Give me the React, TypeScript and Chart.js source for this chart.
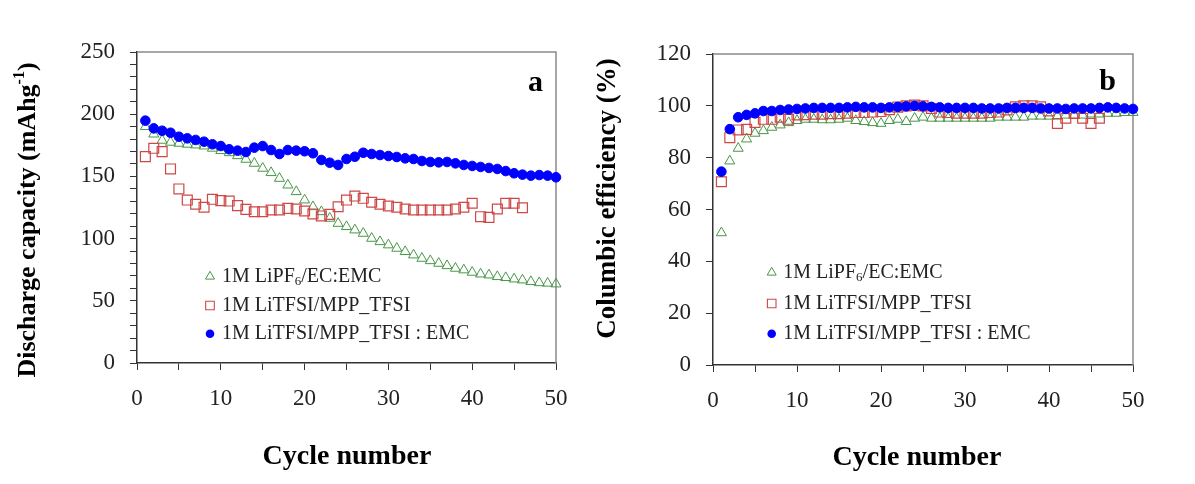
import React, { useEffect, useRef } from 'react';
import { Chart, registerables } from 'chart.js';

Chart.register(...registerables);

const FONT = "'Liberation Serif', 'Times New Roman', serif";

// ---------- data ----------
const cycles = [1, 2, 3, 4, 5, 6, 7, 8, 9, 10, 11, 12, 13, 14, 15, 16, 17, 18, 19, 20, 21, 22, 23, 24, 25,
  26, 27, 28, 29, 30, 31, 32, 33, 34, 35, 36, 37, 38, 39, 40, 41, 42, 43, 44, 45, 46, 47, 48, 49, 50];

const seriesNames = ['1M LiPF6/EC:EMC', '1M LiTFSI/MPP_TFSI', '1M LiTFSI/MPP_TFSI : EMC'];

// (a) discharge capacity, mAh/g
const capLiPF6 = [190, 184, 179, 177.4, 176.6, 175.8, 175.2, 174.4, 172.6, 170.7, 169, 166.6, 163.7, 160.5, 156.5,
  153, 148.4, 143, 137.7, 131, 125.6, 121.6, 116.3, 112.2, 109.6, 106.9, 104.2, 100.2, 97.5, 94.9, 92.2, 89.5,
  86.8, 84.1, 82.2, 80.1, 78.2, 76.1, 74.8, 72.9, 71.5, 70.7, 69.4, 68.6, 67.5, 66.7, 65.4, 64.5, 64.1, 63.5];
const capMPP = [165.9, 172.6, 169.9, 156, 139.9, 131, 127.6, 125.2, 131.6, 130.5, 130.2, 126.5, 123.5, 121.6, 121.6,
  123, 123, 124.3, 123.8, 122.2, 119.8, 118.2, 119.5, 125.6, 131, 134.2, 132.4, 129.2, 127.6, 126.2, 125.2, 123.8,
  123, 123, 123, 123, 123, 123.8, 125.2, 128.4, 117.6, 117.1, 123.8, 128.4, 128.4, 124.8];
const capMPPEMC = [194.8, 188.6, 186.7, 185.1, 181.9, 180.6, 179.3, 177.9, 175.8, 174.4, 171.8, 170.7, 169.6, 173.1,
  174.4, 171.2, 168, 171.2, 170.7, 170.2, 168.6, 163.2, 161, 159.2, 164, 165.8, 169, 168, 167.2, 166.4, 165.6, 164.5,
  164, 162.4, 161.6, 161.3, 161.6, 160.5, 159.2, 158.4, 157.6, 156.8, 156, 154.3, 152.5, 151.4, 150.6, 151.1, 150.6, 149.3];

// (b) columbic efficiency, %
const ceLiPF6 = [51, 78.7, 83.6, 87.2, 89.4, 90.4, 91.7, 92.6, 93.5, 94.3, 94.8, 94.8, 94.6, 94.6, 94.8, 95.2, 94.3,
  93.9, 93.5, 93.2, 94.3, 94.8, 93.9, 95.2, 95.6, 95.2, 95.2, 95.2, 95.2, 95.2, 95.2, 95.2, 95.2, 95.6, 95.6, 95.6,
  95.6, 96, 96, 96, 96, 96.4, 96.4, 96.4, 96.8, 96.8, 97.1, 97.1, 97.4, 97.4];
const ceMPP = [70.7, 87.7, 90.7, 90.9, 93.6, 94.8, 94.8, 95.6, 94.8, 96.5, 96.6, 96.8, 96.8, 97, 97, 97.2, 97.4,
  97.4, 97.6, 97.8, 98.5, 99.5, 100, 100.3, 100, 99, 97.6, 97.4, 97.2, 97.2, 97.2, 97.2, 97.4, 97.6, 98.4, 99.6,
  100, 100, 99.6, 98, 93.2, 95.2, 97.1, 95.2, 93.2, 95.2];
const ceMPPEMC = [74.6, 91, 95.6, 96.5, 97.1, 98, 98, 98.4, 98.6, 98.8, 99, 99.2, 99.2, 99.2, 99.2, 99.4, 99.6, 99.4,
  99.4, 99.2, 99.4, 99.6, 99.8, 100, 99.8, 99.6, 99.4, 99.2, 99.2, 99.2, 99.2, 99, 99, 99, 99.2, 99.2, 99.2, 99.2,
  99, 99, 99, 98.8, 99, 99, 99, 99.2, 99.4, 99.2, 99, 98.8];

// ticks
const xTicks = [0, 5, 10, 15, 20, 25, 30, 35, 40, 45, 50];
const xLabels = [0, 10, 20, 30, 40, 50];
const capTicks = [0, 10, 20, 30, 40, 50, 60, 70, 80, 90, 100, 110, 120, 130, 140, 150, 160, 170, 180, 190, 200,
  210, 220, 230, 240, 250];
const capLabels = [0, 50, 100, 150, 200, 250];
const ceTicks = [0, 20, 40, 60, 80, 100, 120];
const ceLabels = [0, 20, 40, 60, 80, 100, 120];

// ---------- styles ----------
const GREEN = 'rgb(72,150,72)';
const RED = 'rgb(205,72,72)';
const BLUE = 'rgb(0,0,255)';

function pts(vals: number[]) {
  return vals.map((v, i) => ({ x: cycles[i], y: v }));
}

function makeDatasets(a: number[], b: number[], c: number[]) {
  return [
    {
      label: seriesNames[0], data: pts(a), pointStyle: 'triangle', pointRadius: 5.8,
      borderColor: GREEN, backgroundColor: 'rgba(255,255,255,0)', pointBorderWidth: 1, showLine: false,
      order: 3, clip: false,
    },
    {
      label: seriesNames[1], data: pts(b), pointStyle: 'rect', pointRadius: 7,
      borderColor: RED, backgroundColor: 'rgba(255,255,255,0)', pointBorderWidth: 1.2, showLine: false,
      order: 2, clip: false,
    },
    {
      label: seriesNames[2], data: pts(c), pointStyle: 'circle', pointRadius: 4.8,
      borderColor: BLUE, backgroundColor: BLUE, pointBorderWidth: 1, showLine: false,
      order: 1, clip: false,
    },
  ];
}

type Annot = {
  yTitle: [string, string, string];
  yTitleSize: number;
  yTitleX: number; yTitleY: number;
  xTitle: string; xTitleX: number; xTitleY: number;
  letter: string; letterX: number; letterY: number;
  legMarkX: number; legTextX: number; legRows: number[];
};

function drawMarker(ctx: CanvasRenderingContext2D, kind: number, x: number, y: number) {
  ctx.save();
  ctx.beginPath();
  if (kind === 0) {
    const r = 5.2;
    ctx.moveTo(x, y - r);
    ctx.lineTo(x + r * 0.866, y + r / 2);
    ctx.lineTo(x - r * 0.866, y + r / 2);
    ctx.closePath();
    ctx.strokeStyle = GREEN; ctx.lineWidth = 1; ctx.stroke();
  } else if (kind === 1) {
    const s = 4.3;
    ctx.rect(x - s, y - s, 2 * s, 2 * s);
    ctx.strokeStyle = RED; ctx.lineWidth = 1.1; ctx.stroke();
  } else {
    ctx.arc(x, y, 4.3, 0, Math.PI * 2);
    ctx.fillStyle = BLUE; ctx.fill();
  }
  ctx.restore();
}

function annotPlugin(a: Annot) {
  return {
    id: 'annot',
    beforeDatasetsDraw(chart: any) {
      const { ctx, chartArea: c } = chart;
      ctx.save();
      ctx.strokeStyle = '#8a8a8a';
      ctx.lineWidth = 1.5;
      ctx.beginPath();
      ctx.moveTo(c.left, c.top);
      ctx.lineTo(c.right, c.top);
      ctx.lineTo(c.right, c.bottom);
      ctx.stroke();
      ctx.restore();
    },
    afterDraw(chart: any) {
      const ctx: CanvasRenderingContext2D = chart.ctx;
      ctx.save();
      ctx.fillStyle = '#000';
      // y title (rotated, with superscript)
      ctx.translate(a.yTitleX, a.yTitleY);
      ctx.rotate(-Math.PI / 2);
      const mainFont = `bold ${a.yTitleSize}px ${FONT}`;
      const supFont = `bold 16px ${FONT}`;
      ctx.textBaseline = 'middle';
      ctx.textAlign = 'left';
      ctx.font = mainFont;
      const w1 = ctx.measureText(a.yTitle[0]).width;
      const w3 = ctx.measureText(a.yTitle[2]).width;
      ctx.font = supFont;
      const w2 = a.yTitle[1] ? ctx.measureText(a.yTitle[1]).width : 0;
      let x0 = -(w1 + w2 + w3) / 2;
      ctx.font = mainFont;
      ctx.fillText(a.yTitle[0], x0, 0);
      x0 += w1;
      if (a.yTitle[1]) {
        ctx.font = supFont;
        ctx.fillText(a.yTitle[1], x0, -9);
        x0 += w2;
      }
      ctx.font = mainFont;
      ctx.fillText(a.yTitle[2], x0, 0);
      ctx.restore();

      ctx.save();
      // x title
      ctx.fillStyle = '#000';
      ctx.font = `bold 28px ${FONT}`;
      ctx.textAlign = 'center';
      ctx.textBaseline = 'middle';
      ctx.fillText(a.xTitle, a.xTitleX, a.xTitleY);
      // panel letter
      ctx.font = `bold 30px ${FONT}`;
      ctx.textBaseline = 'alphabetic';
      ctx.fillText(a.letter, a.letterX, a.letterY);
      // legend
      ctx.textAlign = 'left';
      ctx.textBaseline = 'middle';
      a.legRows.forEach((ry, i) => {
        drawMarker(ctx, i, a.legMarkX, ry);
        const tx = a.legTextX;
        ctx.fillStyle = '#222';
        if (i === 0) {
          const p1 = '1M LiPF', sub = '6', p2 = '/EC:EMC';
          ctx.font = `20px ${FONT}`;
          ctx.fillText(p1, tx, ry);
          const wa = ctx.measureText(p1).width;
          ctx.font = `13px ${FONT}`;
          ctx.fillText(sub, tx + wa, ry + 5);
          const wb = ctx.measureText(sub).width;
          ctx.font = `20px ${FONT}`;
          ctx.fillText(p2, tx + wa + wb, ry);
        } else {
          ctx.font = `20px ${FONT}`;
          ctx.fillText(seriesNames[i], tx, ry);
        }
      });
      ctx.restore();
    },
  };
}

type Geo = { padTop: number; padRight: number; yAxisW: number; xAxisH: number };

function makeConfig(datasets: any[], yMax: number, yTicks: number[], yLabels: number[], geo: Geo, annot: Annot) {
  const tickFont = { family: FONT, size: 23 };
  return {
    type: 'scatter' as const,
    data: { datasets },
    options: {
      responsive: false,
      animation: false as const,
      events: [],
      layout: { padding: { left: 0, top: geo.padTop, right: geo.padRight, bottom: 0 } },
      plugins: { legend: { display: false }, tooltip: { enabled: false }, title: { display: false } },
      scales: {
        x: {
          type: 'linear' as const,
          min: 0, max: 50,
          afterBuildTicks: (s: any) => { s.ticks = xTicks.map((v) => ({ value: v })); },
          afterFit: (s: any) => { s.height = geo.xAxisH; },
          ticks: {
            autoSkip: false, maxRotation: 0, padding: 15, color: '#222', font: tickFont,
            callback: (v: any) => (xLabels.includes(Number(v)) ? String(v) : ''),
          },
          grid: { display: true, drawOnChartArea: false, drawTicks: true, tickLength: 7, tickColor: '#333', tickWidth: 1 },
          border: { display: true, color: '#333', width: 1.5 },
        },
        y: {
          type: 'linear' as const,
          min: 0, max: yMax,
          afterBuildTicks: (s: any) => { s.ticks = yTicks.map((v) => ({ value: v })); },
          afterFit: (s: any) => { s.width = geo.yAxisW; },
          ticks: {
            autoSkip: false, padding: 15, color: '#222', font: tickFont,
            callback: (v: any) => (yLabels.includes(Number(v)) ? String(v) : ''),
          },
          grid: { display: true, drawOnChartArea: false, drawTicks: true, tickLength: 7, tickColor: '#333', tickWidth: 1 },
          border: { display: true, color: '#333', width: 1.5 },
        },
      },
    },
    plugins: [annotPlugin(annot)],
  };
}

export default function App() {
  const leftRef = useRef<HTMLCanvasElement>(null);
  const rightRef = useRef<HTMLCanvasElement>(null);

  useEffect(() => {
    const left = new Chart(
      leftRef.current as HTMLCanvasElement,
      makeConfig(
        makeDatasets(capLiPF6, capMPP, capMPPEMC), 250, capTicks, capLabels,
        { padTop: 52, padRight: 29, yAxisW: 137, xAxisH: 121 },
        {
          yTitle: ['Discharge capacity (mAhg', '-1', ')'], yTitleSize: 26, yTitleX: 28.5, yTitleY: 220,
          xTitle: 'Cycle number', xTitleX: 347, xTitleY: 457,
          letter: 'a', letterX: 535.5, letterY: 91,
          legMarkX: 210, legTextX: 222, legRows: [276.5, 305.5, 333.7],
        },
      ) as any,
    );
    const right = new Chart(
      rightRef.current as HTMLCanvasElement,
      makeConfig(
        makeDatasets(ceLiPF6, ceMPP, ceMPPEMC), 120, ceTicks, ceLabels,
        { padTop: 54, padRight: 62, yAxisW: 128, xAxisH: 119 },
        {
          yTitle: ['Columbic efficiency (%)', '', ''], yTitleSize: 27, yTitleX: 23.5, yTitleY: 198.5,
          xTitle: 'Cycle number', xTitleX: 332, xTitleY: 458,
          letter: 'b', letterX: 522.5, letterY: 90,
          legMarkX: 186.7, legTextX: 198.3, legRows: [272.5, 303.5, 333.7],
        },
      ) as any,
    );
    return () => {
      left.destroy();
      right.destroy();
    };
  }, []);

  return (
    <div style={{ position: 'absolute', left: 0, top: 0, width: 1195, height: 484, background: '#fff', overflow: 'hidden' }}>
      <canvas ref={leftRef} width={585} height={484} style={{ position: 'absolute', left: 0, top: 0 }} />
      <canvas ref={rightRef} width={610} height={484} style={{ position: 'absolute', left: 585, top: 0 }} />
    </div>
  );
}
